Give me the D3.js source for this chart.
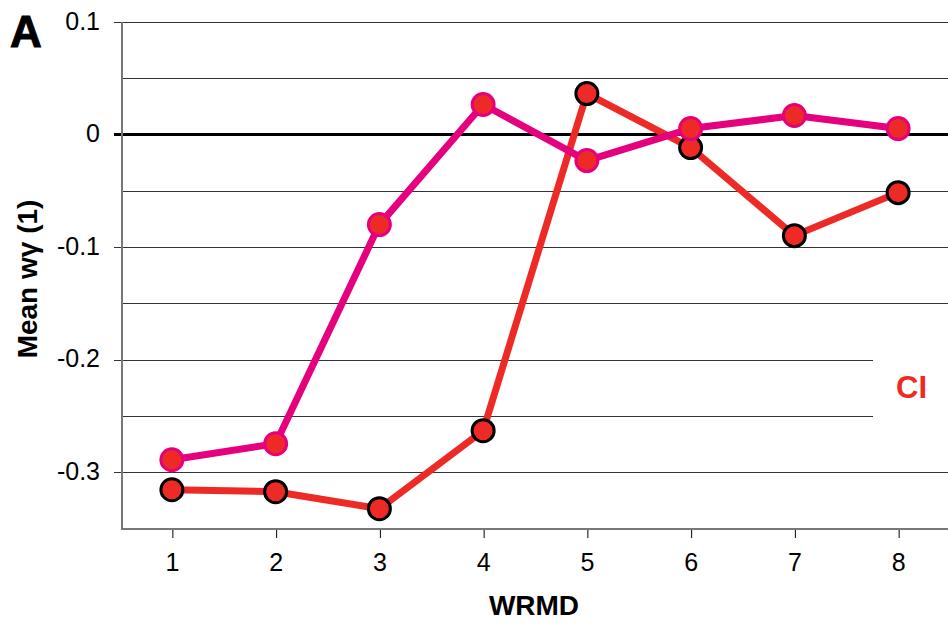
<!DOCTYPE html>
<html><head><meta charset="utf-8">
<script src="https://cdn.jsdelivr.net/npm/d3@7"></script>
<style>body{margin:0;background:#fff}svg{display:block}text{font-family:"Liberation Sans",Arial,sans-serif}</style>
</head><body><svg id="c" width="948" height="625"></svg>
<script>
const categories = [1,2,3,4,5,6,7,8];
const seriesCI = [-0.3156,-0.3173,-0.3324,-0.2631,0.0364,-0.0116,-0.0898,-0.0516];
const seriesPink = [-0.2889,-0.2747,-0.0800,0.0267,-0.0231,0.0053,0.0169,0.0053];
const yTicks = [0.1,0,-0.1,-0.2,-0.3];
const yTickLabels = ["0.1","0","-0.1","-0.2","-0.3"];
const yGrid = [0.1,0.05,-0.05,-0.1,-0.15,-0.2,-0.25,-0.3];
const legendLabel = "CI";

const svg = d3.select("#c");
const x = d3.scaleLinear().domain([0.5,8.5]).range([120,950]);
const y = d3.scaleLinear().domain([-0.35,0.1]).range([528.5,22]);
const RED = "#ee2a27", PINK = "#e5007e";
const FONT = "Liberation Sans, Arial, sans-serif";

// gridlines
svg.append("g").selectAll("line").data(yGrid).join("line")
  .attr("x1", d => yTicks.includes(d) ? 114 : 122).attr("x2", 948)
  .attr("y1", d => Math.round(y(d))+0.5).attr("y2", d => Math.round(y(d))+0.5)
  .attr("stroke", "#333").attr("stroke-width", 1);
// legend background
svg.append("rect").attr("x",873).attr("y",330).attr("width",75).attr("height",115).attr("fill","#fff");
svg.append("text").attr("x",896).attr("y",398)
  .attr("font-size",31).attr("font-weight","bold").attr("fill",RED).text(legendLabel);

// zero line
svg.append("line").attr("x1",114).attr("x2",948).attr("y1",y(0)).attr("y2",y(0))
  .attr("stroke","#000").attr("stroke-width",3);

// axes
svg.append("line").attr("x1",122).attr("x2",122).attr("y1",22).attr("y2",529.5).attr("stroke","#777").attr("stroke-width",2);
svg.append("line").attr("x1",121).attr("x2",948).attr("y1",529).attr("y2",529).attr("stroke","#777").attr("stroke-width",2);

const xAxis = d3.axisBottom(x).tickValues(categories).tickSize(8).tickPadding(14).tickFormat(d3.format("d"));
const gx = svg.append("g").attr("transform","translate(0,530)").call(xAxis);
gx.select(".domain").remove();
gx.selectAll(".tick line").attr("stroke","#000").attr("stroke-width",1).attr("transform","translate(0.5,0)");
gx.selectAll(".tick text").attr("font-size",25).attr("fill","#000").attr("font-family",FONT)
  .attr("dy",null).attr("y",41);

const yAxis = d3.axisLeft(y).tickValues(yTicks).tickSize(0).tickPadding(22).tickFormat((d,i) => yTickLabels[i]);
const gy = svg.append("g").attr("transform","translate(122,0)").call(yAxis);
gy.select(".domain").remove();
gy.selectAll(".tick text").attr("font-size",25).attr("fill","#000").attr("font-family",FONT)
  .attr("dy",null).attr("y",7);

// titles
svg.append("text").attr("transform","translate(37,279) rotate(-90)").attr("text-anchor","middle")
  .attr("font-size",28).attr("font-weight","bold").text("Mean wγ (1)");
svg.append("text").attr("x",534).attr("y",615).attr("text-anchor","middle")
  .attr("font-size",28).attr("font-weight","bold").text("WRMD");
svg.append("text").attr("x",10).attr("y",47).attr("font-size",44).attr("font-weight","bold")
  .attr("stroke","#000").attr("stroke-width",1).text("A");

const line = d3.line().x((d,i)=>x(categories[i])).y(d=>y(d));
function drawSeries(vals, lineColor, markerStroke){
  const g = svg.append("g");
  g.append("path").datum(vals).attr("d",line).attr("fill","none")
    .attr("stroke",lineColor).attr("stroke-width",7).attr("stroke-linejoin","round");
  g.selectAll("circle").data(vals).join("circle")
    .attr("cx",(d,i)=>x(categories[i])).attr("cy",d=>y(d)).attr("r",11)
    .attr("fill",RED).attr("stroke",markerStroke).attr("stroke-width",3);
}
drawSeries(seriesCI, RED, "#000");
drawSeries(seriesPink, PINK, PINK);
</script></body></html>
